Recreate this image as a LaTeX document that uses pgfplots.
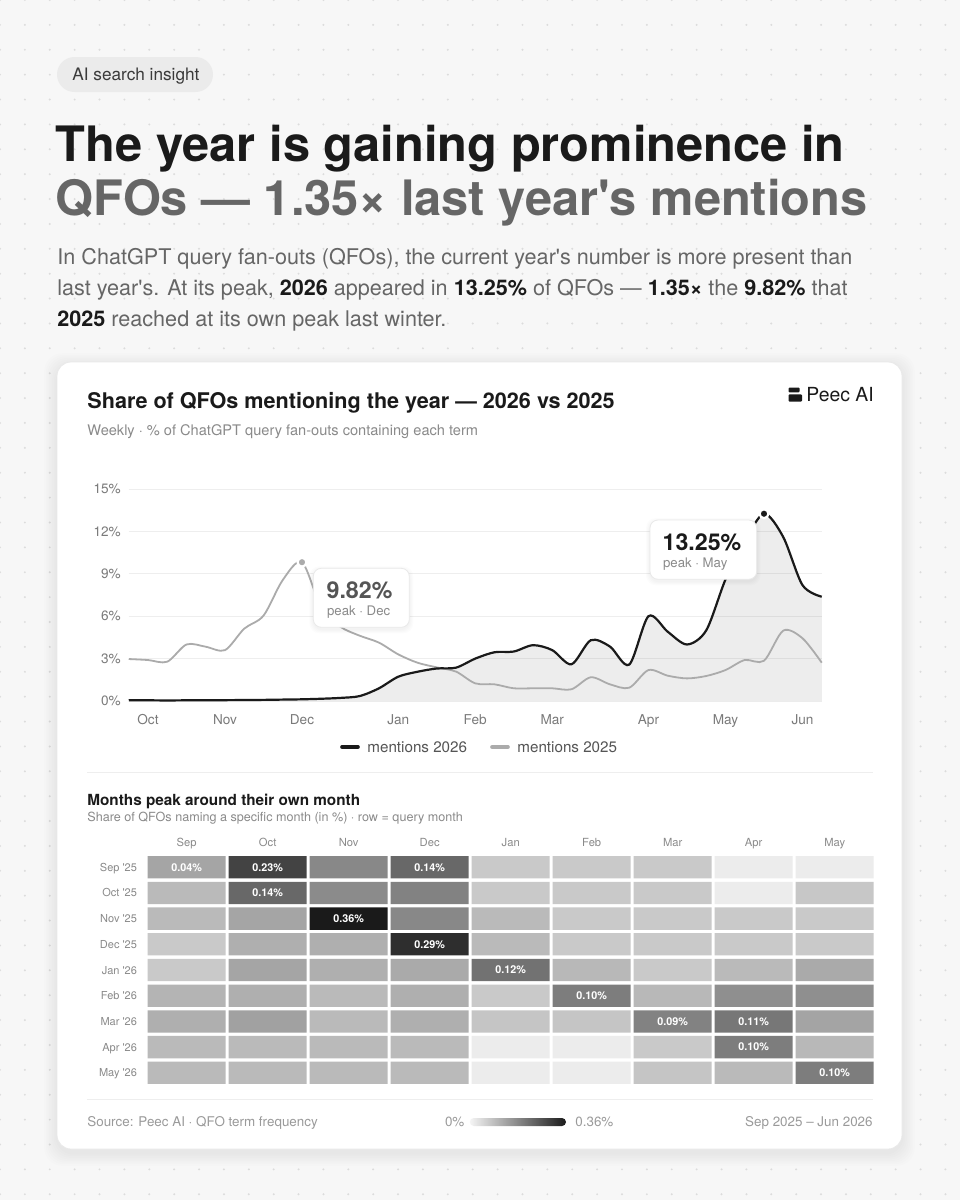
\documentclass[border=0pt]{standalone}
\usepackage{pgfplots}
\pgfplotsset{compat=1.18}
\usepackage{pgfplotstable}
\usepackage{fontspec}
\setmainfont{TeX Gyre Heros}[Ligatures=TeXOff]

\definecolor{ink}{HTML}{1A1A1A}
\definecolor{titlegrey}{HTML}{666666}
\definecolor{body}{HTML}{666666}
\definecolor{sub}{HTML}{8A8A8A}
\definecolor{tickc}{HTML}{7A7A7A}
\definecolor{foot}{HTML}{9A9A9A}
\definecolor{legendc}{HTML}{555555}
\definecolor{bg}{HTML}{F7F7F7}
\definecolor{dotc}{HTML}{DCDCDC}
\definecolor{pill}{HTML}{EBEBEB}
\definecolor{pilltext}{HTML}{3A3A3A}
\definecolor{cardborder}{HTML}{E9E9E9}
\definecolor{gridc}{HTML}{EEEEEE}
\definecolor{line25}{HTML}{ABABAB}
\definecolor{c555}{HTML}{555555}
\definecolor{sepc}{HTML}{EEEEEE}

\pgfplotsset{/pgf/number format/assume math mode=true}

% weekly share (%) : week index 0 = late Sep 2025 ... 36 = mid Jun 2026
\pgfplotstableread{
w v26 v25
0 0.05 2.97
1 0.05 2.90
2 0.04 2.78
3 0.05 4.00
4 0.06 3.84
5 0.06 3.60
6 0.07 5.12
7 0.08 6.04
8 0.10 8.56
9 0.12 9.82
10 0.16 6.60
11 0.22 5.25
12 0.35 4.62
13 0.90 4.13
14 1.72 3.30
15 2.07 2.71
16 2.30 2.38
17 2.36 2.08
18 3.00 1.25
19 3.45 1.18
20 3.50 0.90
21 3.95 0.90
22 3.60 0.90
23 2.60 0.83
24 4.30 1.68
25 3.85 1.18
26 2.58 0.94
27 6.00 2.19
28 4.90 1.79
29 4.00 1.60
30 5.00 1.77
31 8.60 2.19
32 11.30 2.90
33 13.25 2.85
34 11.60 4.98
35 8.20 4.44
36 7.38 2.71
}\linedata

% heatmap: c = mentioned month (0=Sep..8=May), r = query month (0=Sep'25..8=May'26), v = share in %
\pgfplotstableread[row sep=\\]{
c r v\\
0 0 0.04\\ 1 0 0.23\\ 2 0 0.08\\ 3 0 0.14\\ 4 0 0.01\\ 5 0 0.01\\ 6 0 0.01\\ 7 0 0.00\\ 8 0 0.00\\
0 1 0.02\\ 1 1 0.14\\ 2 1 0.075\\ 3 1 0.09\\ 4 1 0.01\\ 5 1 0.01\\ 6 1 0.01\\ 7 1 0.00\\ 8 1 0.011\\
0 2 0.02\\ 1 2 0.04\\ 2 2 0.36\\ 3 2 0.08\\ 4 2 0.02\\ 5 2 0.01\\ 6 2 0.01\\ 7 2 0.01\\ 8 2 0.01\\
0 3 0.01\\ 1 3 0.03\\ 2 3 0.03\\ 3 3 0.29\\ 4 3 0.02\\ 5 3 0.01\\ 6 3 0.01\\ 7 3 0.01\\ 8 3 0.01\\
0 4 0.01\\ 1 4 0.04\\ 2 4 0.03\\ 3 4 0.035\\ 4 4 0.12\\ 5 4 0.022\\ 6 4 0.01\\ 7 4 0.02\\ 8 4 0.035\\
0 5 0.025\\ 1 5 0.03\\ 2 5 0.02\\ 3 5 0.03\\ 4 5 0.01\\ 5 5 0.10\\ 6 5 0.022\\ 7 5 0.07\\ 8 5 0.07\\
0 6 0.03\\ 1 6 0.045\\ 2 6 0.02\\ 3 6 0.03\\ 4 6 0.012\\ 5 6 0.012\\ 6 6 0.09\\ 7 6 0.11\\ 8 6 0.042\\
0 7 0.02\\ 1 7 0.02\\ 2 7 0.02\\ 3 7 0.02\\ 4 7 0.00\\ 5 7 0.00\\ 6 7 0.01\\ 7 7 0.10\\ 8 7 0.022\\
0 8 0.02\\ 1 8 0.02\\ 2 8 0.02\\ 3 8 0.02\\ 4 8 0.00\\ 5 8 0.00\\ 6 8 0.012\\ 7 8 0.02\\ 8 8 0.10\\
}\heat

\pgfplotstableread[row sep=\\]{
c r v\\
0 0 0.04\\ 1 0 0.23\\ 3 0 0.14\\ 1 1 0.14\\ 2 2 0.36\\ 3 3 0.29\\
4 4 0.12\\ 5 5 0.10\\ 6 6 0.09\\ 7 6 0.11\\ 7 7 0.10\\ 8 8 0.10\\
}\heatlab

\pgfdeclareplotmark{cell}{%
  \pgfsetcornersarced{\pgfpoint{2pt}{2pt}}%
  \pgfpathmoveto{\pgfpoint{-19.5pt}{0pt}}%
  \pgfpathlineto{\pgfpoint{-19.5pt}{5.575pt}}%
  \pgfpathlineto{\pgfpoint{19.5pt}{5.575pt}}%
  \pgfpathlineto{\pgfpoint{19.5pt}{-5.575pt}}%
  \pgfpathlineto{\pgfpoint{-19.5pt}{-5.575pt}}%
  \pgfpathclose
  \pgfusepathqfill}

\begin{document}
\begin{tikzpicture}
\begin{scope}[x=0.5pt,y=-0.5pt]
  % page background with dot grid
  \fill[bg] (0,0) rectangle (960,1200);
  \foreach \i in {0,...,38}{\foreach \j in {0,...,48}{\fill[dotc] (\i*24.88,\j*24.88) circle[radius=0.55pt];}}
  % pill
  \fill[pill, rounded corners=8.7pt] (57,57) rectangle (213,92);
  \node[anchor=base west, inner sep=0pt, text=pilltext, font=\fontsize{8.6}{10}\selectfont] at (72,80) {AI search insight};
  % title
  \node[anchor=base west, inner sep=0pt, text=ink, font=\bfseries\fontsize{24.4}{28}\selectfont] at (55.5,161) {The year is gaining prominence in};
  \node[anchor=base west, inner sep=0pt, text=titlegrey, font=\bfseries\fontsize{24.4}{28}\selectfont] at (55.5,215) {QFOs — 1.35× last year's mentions};
  % paragraph
  \begin{scope}[every node/.style={anchor=base west, inner sep=0pt, text=body, font=\fontsize{10.8}{13}\selectfont}]
    \node at (57,264) {In ChatGPT query fan-outs (QFOs), the current year's number is more present than};
    \node at (57,295) {last year's. At its peak, {\color{ink}\bfseries 2026} appeared in {\color{ink}\bfseries 13.25\%} of QFOs — {\color{ink}\bfseries 1.35×} the {\color{ink}\bfseries 9.82\%} that};
    \node at (57,326) {{\color{ink}\bfseries 2025} reached at its own peak last winter.};
  \end{scope}
  % card shadow + card
  \foreach \k in {1,...,8}{\fill[black, opacity=0.007, rounded corners=9pt] (57-\k*1.6,362-\k*1.6+4) rectangle (902+\k*1.6,1149+\k*1.6+4);}
  \fill[white, draw=cardborder, line width=0.4pt, rounded corners=7pt] (57,362) rectangle (902,1149);
  % card header
  \node[anchor=base west, inner sep=0pt, text=ink, font=\bfseries\fontsize{10.8}{13}\selectfont] at (87,408) {Share of QFOs mentioning the year — 2026 vs 2025};
  \node[anchor=base west, inner sep=0pt, text=sub, font=\fontsize{7.3}{9}\selectfont] at (87,435) {Weekly · \% of ChatGPT query fan-outs containing each term};
  \fill[ink, rounded corners=0.5pt] (788.5,387.5) rectangle (799.5,392.3);
  \fill[ink, rounded corners=0.5pt] (788.5,394.3) rectangle (802,401.5);
  \node[anchor=base west, inner sep=0pt, text=ink, font=\fontsize{9.7}{11}\selectfont] at (806,401) {Peec AI};
  % legend
  \draw[ink, line width=1.8pt, line cap=round] (342,747) -- (358,747);
  \node[anchor=base west, inner sep=0pt, text=legendc, font=\fontsize{7.6}{9}\selectfont] at (367,752) {mentions 2026};
  \draw[line25, line width=1.8pt, line cap=round] (492,747) -- (508,747);
  \node[anchor=base west, inner sep=0pt, text=legendc, font=\fontsize{7.6}{9}\selectfont] at (517,752) {mentions 2025};
  % separator and heatmap header
  \draw[sepc, line width=0.5pt] (87,772) -- (873,772);
  \node[anchor=base west, inner sep=0pt, text=ink, font=\bfseries\fontsize{7.65}{9}\selectfont] at (87,805) {Months peak around their own month};
  \node[anchor=base west, inner sep=0pt, text=sub, font=\fontsize{6.3}{8}\selectfont] at (87,821.7) {Share of QFOs naming a specific month (in \%) · row = query month};
  % footer
  \draw[sepc, line width=0.5pt] (87,1099) -- (873,1099);
  \node[anchor=base west, inner sep=0pt, text=foot, font=\fontsize{6.7}{8}\selectfont] at (87,1126) {Source: Peec AI · QFO term frequency};
  \node[anchor=base west, inner sep=0pt, text=foot, font=\fontsize{6.7}{8}\selectfont] at (444.6,1126) {0\%};
  \shade[left color=white!96!black, middle color=black!50, right color=ink, rounded corners=2pt] (469.8,1118) rectangle (566,1126);
  \node[anchor=base west, inner sep=0pt, text=foot, font=\fontsize{6.7}{8}\selectfont] at (575,1126) {0.36\%};
  \node[anchor=base east, inner sep=0pt, text=foot, font=\fontsize{6.7}{8}\selectfont] at (873,1126) {Sep 2025 – Jun 2026};
\end{scope}

% ---------- line chart ----------
\begin{axis}[
  at={(64.375pt,-350.5pt)}, anchor=south west,
  scale only axis, width=346.5pt, height=106pt,
  xmin=0, xmax=36, ymin=0, ymax=15,
  axis line style={draw=none}, major tick length=0pt,
  ytick={0,3,6,9,12,15},
  yticklabel={\pgfmathprintnumber{\tick}\%},
  ymajorgrids, grid style={color=gridc, line width=0.5pt},
  xtick={1,5,9,14,18,22,27,31,35},
  xticklabels={Oct,Nov,Dec,Jan,Feb,Mar,Apr,May,Jun},
  tick label style={font=\fontsize{6.8}{8}\selectfont, text=tickc},
  yticklabel style={anchor=east, inner sep=0pt, xshift=-3.8pt},
  xticklabel style={anchor=base, inner sep=0pt, yshift=-11.5pt},
  clip=false,
]
  \addplot[draw=none, fill=black, fill opacity=0.07, smooth, tension=0.5] table[x=w, y=v26]{\linedata} \closedcycle;
  \addplot[line25, line width=0.9pt, smooth, tension=0.5] table[x=w, y=v25]{\linedata};
  \addplot[ink, line width=1.1pt, smooth, tension=0.5] table[x=w, y=v26]{\linedata};
  \addplot[only marks, mark=*, mark size=2.2pt, mark options={fill=line25, draw=white, line width=1.1pt}] coordinates {(9,9.82)};
  \addplot[only marks, mark=*, mark size=2.2pt, mark options={fill=ink, draw=white, line width=1.1pt}] coordinates {(33,13.25)};
\end{axis}

% ---------- heatmap ----------
\begin{axis}[
  at={(73.1pt,-427.175pt)}, anchor=north west,
  scale only axis, width=364.5pt, height=115.65pt,
  xmin=-0.5, xmax=8.5, ymin=-0.5, ymax=8.5,
  axis line style={draw=none}, major tick length=0pt,
  xtick={0,...,8}, xticklabels={Sep,Oct,Nov,Dec,Jan,Feb,Mar,Apr,May},
  xticklabel pos=upper,
  ytick={0,...,8}, yticklabels={May '26,Apr '26,Mar '26,Feb '26,Jan '26,Dec '25,Nov '25,Oct '25,Sep '25},
  tick label style={text=sub},
  xticklabel style={font=\fontsize{5.6}{7}\selectfont, anchor=base, inner sep=0pt, yshift=3.8pt},
  yticklabel style={font=\fontsize{5.5}{7}\selectfont, anchor=base east, inner sep=0pt, xshift=-4.45pt, yshift=-2pt},
  colormap={heat}{rgb255=(236,236,236) rgb255=(26,26,26)},
  point meta min=0, point meta max=0.6,
  clip=false,
]
  \addplot[scatter, only marks, mark=cell, point meta={sqrt(\thisrow{v})},
    scatter/use mapped color={draw=mapped color, fill=mapped color}]
    table[x=c, y expr=8-\thisrow{r}]{\heat};
  \addplot[draw=none, mark=none, point meta=explicit,
    nodes near coords={\pgfmathprintnumber[fixed,fixed zerofill,precision=2]{\pgfplotspointmeta}\%},
    every node near coord/.append style={anchor=center, text=white, inner sep=0pt, font=\bfseries\fontsize{5.4}{6}\selectfont}]
    table[x=c, y expr=8-\thisrow{r}, meta=v]{\heatlab};
\end{axis}

% ---------- annotation callouts ----------
\begin{scope}[x=0.5pt,y=-0.5pt]
  \foreach \k in {1,...,4}{\fill[black, opacity=0.012, rounded corners=5pt] (313.3-\k,568.3-\k+2) rectangle (409.3+\k,627.3+\k+2);}
  \fill[white, draw=cardborder, line width=0.4pt, rounded corners=4pt] (313.3,568.3) rectangle (409.3,627.3);
  \node[anchor=base west, inner sep=0pt, text=c555, font=\bfseries\fontsize{11.6}{13}\selectfont] at (326.2,598.3) {9.82\%};
  \node[anchor=base west, inner sep=0pt, text=sub, font=\fontsize{6.6}{8}\selectfont] at (326.7,615.7) {peak · Dec};
  \foreach \k in {1,...,4}{\fill[black, opacity=0.012, rounded corners=5pt] (650-\k,520-\k+2) rectangle (756.7+\k,579.3+\k+2);}
  \fill[white, draw=cardborder, line width=0.4pt, rounded corners=4pt] (650,520) rectangle (756.7,579.3);
  \node[anchor=base west, inner sep=0pt, text=ink, font=\bfseries\fontsize{11.6}{13}\selectfont] at (662.2,550) {13.25\%};
  \node[anchor=base west, inner sep=0pt, text=sub, font=\fontsize{6.6}{8}\selectfont] at (662.7,567.3) {peak · May};
\end{scope}

\pgfresetboundingbox
\path[use as bounding box] (0,0) rectangle (480pt,-600pt);
\end{tikzpicture}
\end{document}
